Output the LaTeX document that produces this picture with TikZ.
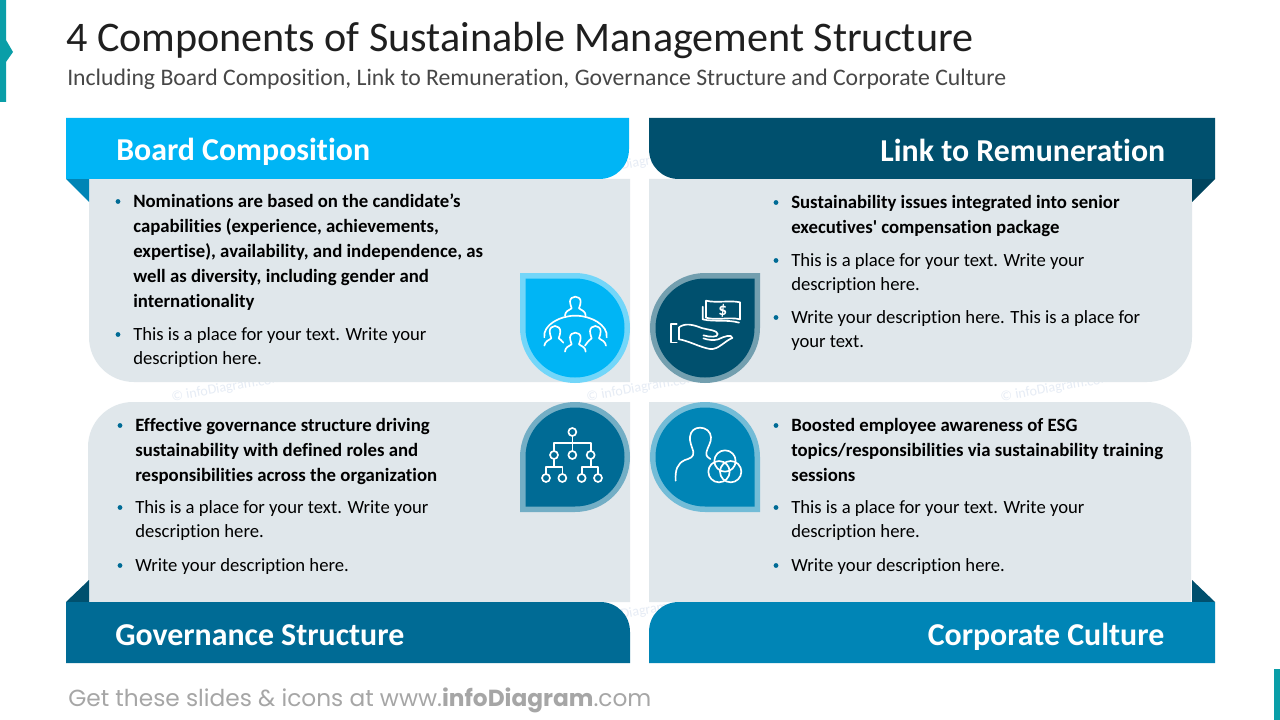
\documentclass[tikz,border=0pt]{standalone}
\usepackage{fontspec}
\setmainfont{Carlito}[Ligatures=CommonOff]
\newfontfamily\footfont{Poppins}
\definecolor{cyanc}{HTML}{00B5F5}
\definecolor{navyc}{HTML}{00506E}
\definecolor{bluec}{HTML}{006B95}
\definecolor{midc}{HTML}{0085B6}
\definecolor{panelc}{HTML}{E0E7EB}
\definecolor{tealc}{HTML}{0A9EA8}
\definecolor{markc}{HTML}{E6ECF5}
\tikzset{
  bodyreg/.style={inner sep=0pt,anchor=north west,align=left,text=black,font=\fontsize{14}{18.4}\selectfont},
  bodybold/.style={inner sep=0pt,anchor=north west,align=left,text=black,font=\fontsize{14.08}{18.75}\selectfont\bfseries},
  headtext/.style={inner sep=0pt,text=white,font=\fontsize{23.9}{27}\selectfont\bfseries},
  wmark/.style={inner sep=0pt,rotate=10,text=markc,font=\fontsize{10.5}{12}\selectfont},
  iconline/.style={draw=white,line width=1.25pt,line cap=round,line join=round},
  bust/.pic={\draw[iconline] (-31,57) .. controls (-31,45) and (-20,40) .. (-11,35) .. controls (-14,26) and (-16,20) .. (-16,15) .. controls (-16,5) and (-8,0) .. (0,0) .. controls (8,0) and (16,5) .. (16,15) .. controls (16,20) and (14,26) .. (11,35) .. controls (20,40) and (31,45) .. (31,57);}
}
\newcommand{\bul}[5]{%
  \fill[bluec] (#3-15,#4-5.5) circle[radius=1.8pt];
  \node[#1] (#2) at (#3,#4-16) {\rule{0pt}{12pt}#5};}
\begin{document}
\begin{tikzpicture}[x=0.75pt,y=-0.75pt]
\useasboundingbox (0,0) rectangle (1280,720);
\fill[white] (0,0) rectangle (1280,720);
% accents
\fill[tealc] (0,0) -- (6,0) -- (6,40) -- (13,52) -- (6,62) -- (6,102) -- (0,102) -- cycle;
\fill[tealc] (1274,669) rectangle (1280,720);
% title
\node[inner sep=0pt,anchor=base west,font=\fontsize{31.6}{36}\selectfont,text=black!88] (title) at (66,52) {4 Components of Sustainable Management Structure};
\node[inner sep=0pt,anchor=base west,font=\fontsize{17.8}{20}\selectfont,text=black!72] (subtitle) at (67,86) {Including Board Composition, Link to Remuneration, Governance Structure and Corporate Culture};
% watermarks
\node[wmark] (wm1) at (227,388) {© infoDiagram.com};
\node[wmark] (wm2) at (642,388) {© infoDiagram.com};
\node[wmark] (wm3) at (1056,388) {© infoDiagram.com};
\node[wmark] (wm4) at (640,163) {© infoDiagram.com};
\node[wmark] (wm5) at (640,612) {© infoDiagram.com};
% panels
\fill[panelc] (89,179) -- (630,179) -- (630,382) -- (134,382) .. controls (109,382) and (89,362) .. (89,337) -- cycle;
\fill[panelc] (649,179) -- (1192,179) -- (1192,337) .. controls (1192,362) and (1172,382) .. (1147,382) -- (649,382) -- cycle;
\fill[panelc] (88,602) -- (630,602) -- (630,402) -- (133,402) .. controls (108,402) and (88,422) .. (88,447) -- cycle;
\fill[panelc] (649,602) -- (1191,602) -- (1191,447) .. controls (1191,422) and (1171,402) .. (1146,402) -- (649,402) -- cycle;
% folds
\fill[midc] (66,179) -- (89,179) -- (89,202) -- cycle;
\fill[navyc!85!black] (1215,179) -- (1192,179) -- (1192,202) -- cycle;
\fill[navyc] (66,602) -- (89,602) -- (89,580) -- cycle;
\fill[navyc] (1215,602) -- (1192,602) -- (1192,580) -- cycle;
% header bars
\fill[cyanc] (66,118) -- (629,118) -- (629,149) .. controls (629,166) and (616,179) .. (599,179) -- (66,179) -- cycle;
\fill[navyc] (1215,118) -- (649,118) -- (649,149) .. controls (649,166) and (662,179) .. (679,179) -- (1215,179) -- cycle;
\fill[bluec] (66,663) -- (630,663) -- (630,632) .. controls (630,615) and (617,602) .. (600,602) -- (66,602) -- cycle;
\fill[midc] (1215,663) -- (649,663) -- (649,632) .. controls (649,615) and (662,602) .. (679,602) -- (1215,602) -- cycle;
\node[headtext,anchor=base west] (h1) at (116,161) {Board Composition};
\node[headtext,anchor=base east] (h2) at (1165.5,162) {Link to Remuneration};
\node[headtext,anchor=base west] (h3) at (115,645) {Governance Structure};
\node[headtext,anchor=base east] (h4) at (1164.5,645) {Corporate Culture};
% teardrops
\fill[cyanc!55!white,rounded corners=41.25pt] (520,273) -- (630,273) -- (630,383) -- (520,383) -- (520,273);
\fill[cyanc,rounded corners=37.1pt] (525.5,278.5) -- (624.5,278.5) -- (624.5,377.5) -- (525.5,377.5) -- (525.5,278.5);
\fill[navyc!55!white,rounded corners=41.25pt] (760,273) -- (760,383) -- (650,383) -- (650,273) -- (760,273);
\fill[navyc,rounded corners=37.1pt] (754.5,278.5) -- (754.5,377.5) -- (655.5,377.5) -- (655.5,278.5) -- (754.5,278.5);
\fill[bluec!55!white,rounded corners=41.25pt] (520,512) -- (520,402) -- (630,402) -- (630,512) -- (520,512);
\fill[bluec,rounded corners=37.1pt] (525.5,506.5) -- (525.5,407.5) -- (624.5,407.5) -- (624.5,506.5) -- (525.5,506.5);
\fill[midc!55!white,rounded corners=41.25pt] (760,512) -- (650,512) -- (650,402) -- (760,402) -- (760,512);
\fill[midc,rounded corners=37.1pt] (754.5,506.5) -- (655.5,506.5) -- (655.5,407.5) -- (754.5,407.5) -- (754.5,506.5);
% icons, in 3x coordinates
\begin{scope}[shift={(480,250)},x=.25pt,y=-.25pt]
  % board
  \pic at (286,140) {bust};
  \pic at (286,248) {bust};
  \draw[iconline] (193,262) .. controls (188,225) and (240,197) .. (286,197) .. controls (332,197) and (385,225) .. (380,262);
  \draw[iconline] (193,287) .. controls (195,275) and (205,270) .. (214,265) .. controls (211,256) and (209,250) .. (209,244) .. controls (209,234) and (217,228) .. (225,228) .. controls (233,228) and (241,234) .. (241,244) .. controls (241,250) and (239,256) .. (236,265) .. controls (240,268) and (245,271) .. (250,278);
  \draw[iconline] (378,287) .. controls (376,275) and (366,270) .. (357,265) .. controls (360,256) and (362,250) .. (362,244) .. controls (362,234) and (354,228) .. (346,228) .. controls (338,228) and (330,234) .. (330,244) .. controls (330,250) and (332,256) .. (335,265) .. controls (331,268) and (326,271) .. (315,287);
  % hand and money
  \draw[iconline] (678,152) .. controls (710,160) and (750,150) .. (780,157) -- (780,208) .. controls (750,200) and (710,212) .. (678,203) -- cycle;
  \draw[iconline] (668,170) -- (668,208) .. controls (700,216) and (745,208) .. (777,218);
  \node[inner sep=0pt,text=white,font=\fontsize{13}{13}\selectfont\bfseries] (dollar) at (728,182) {\$};
  \draw[iconline] (590,222) -- (572,222) -- (572,277) -- (590,277);
  \draw[iconline] (597,268) -- (597,232) .. controls (615,218) and (640,224) .. (665,234) .. controls (685,240) and (712,240) .. (713,252) .. controls (714,262) and (690,262) .. (670,256);
  \draw[iconline] (597,268) .. controls (625,272) and (660,292) .. (690,297) .. controls (715,300) and (735,272) .. (757,264) .. controls (755,252) and (735,258) .. (715,268) .. controls (700,272) and (685,270) .. (670,265);
  % org chart
  \foreach \cx/\cy in {277/546,222/615,277/615,332/615,198/684,247/684,305/684,354/684}
    \draw[iconline] (\cx,\cy) circle[radius=3pt];
  \draw[iconline] (277,558) -- (277,603) (222,603) -- (222,578) -- (332,578) -- (332,603);
  \draw[iconline] (222,627) -- (222,650) (198,672) -- (198,650) -- (247,650) -- (247,672);
  \draw[iconline] (332,627) -- (332,650) (305,672) -- (305,650) -- (354,650) -- (354,672);
  % person and circles
  \draw[iconline] (587,692) .. controls (585,660) and (592,640) .. (615,630) .. controls (630,625) and (642,622) .. (640,605) .. controls (636,590) and (628,575) .. (630,560) .. controls (632,542) and (645,533) .. (660,533) .. controls (678,533) and (692,545) .. (693,562) .. controls (694,578) and (682,592) .. (679,608) .. controls (678,618) and (684,624) .. (691,627);
  \draw[iconline] (717,665) circle[radius=8pt];
  \draw[iconline] (752,665) circle[radius=8pt];
  \draw[iconline] (735,633) circle[radius=8pt];
\end{scope}
% body text
\bul{bodybold}{t1a}{133}{207}{Nominations are based on the candidate’s\\capabilities (experience, achievements,\\expertise), availability, and independence, as\\well as diversity, including gender and\\internationality}
\bul{bodyreg}{t1b}{133}{340}{This is a place for your text. Write your\\description here.}
\bul{bodybold}{t2a}{791}{208}{Sustainability issues integrated into senior\\executives\textquotesingle{} compensation package}
\bul{bodyreg}{t2b}{791}{266}{This is a place for your text. Write your\\description here.}
\bul{bodyreg}{t2c}{791}{323}{Write your description here. This is a place for\\your text.}
\bul{bodybold}{t3a}{135}{431}{Effective governance structure driving\\sustainability with defined roles and\\responsibilities across the organization}
\bul{bodyreg}{t3b}{135}{513}{This is a place for your text. Write your\\description here.}
\bul{bodyreg}{t3c}{135}{571}{Write your description here.}
\bul{bodybold}{t4a}{791}{431}{Boosted employee awareness of ESG\\topics/responsibilities via sustainability training\\sessions}
\bul{bodyreg}{t4b}{791}{513}{This is a place for your text. Write your\\description here.}
\bul{bodyreg}{t4c}{791}{571}{Write your description here.}
% footer
\node[inner sep=0pt,anchor=base west,text=black!35,font=\footfont\fontsize{17.45}{20}\selectfont] (foot) at (68,706) {Get these slides \& icons at www.\textbf{infoDiagram}.com};
\end{tikzpicture}
\end{document}
